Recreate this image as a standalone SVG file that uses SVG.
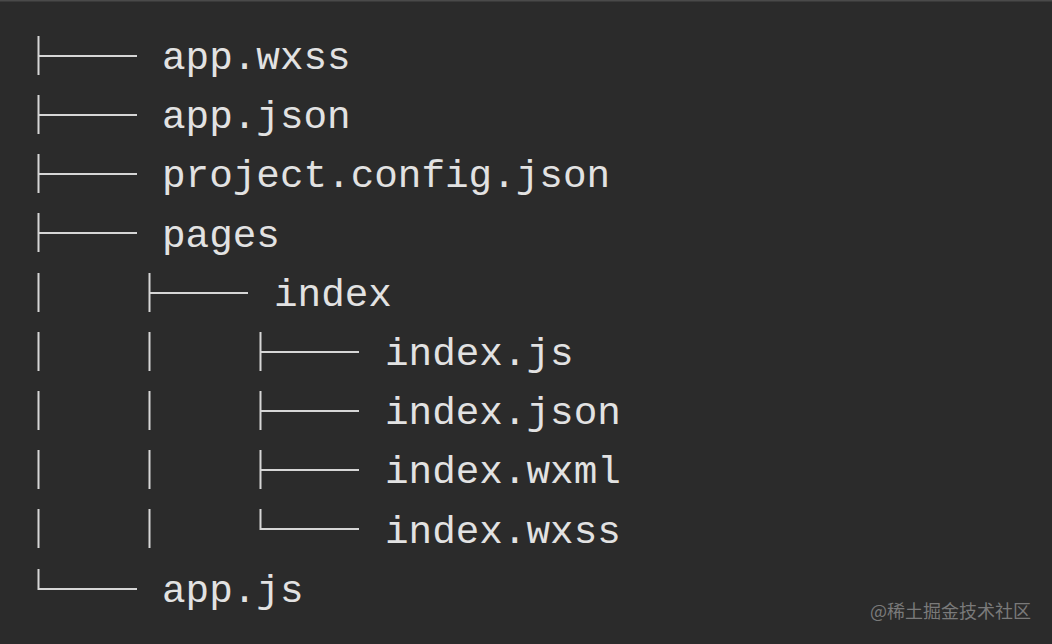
<svg xmlns="http://www.w3.org/2000/svg" width="1052" height="644" viewBox="0 0 1052 644">
<style>
.t{font-family:"Liberation Mono","DejaVu Sans Mono",monospace;font-size:39.3px;fill:#e2e2e2}
.l{stroke:#d6d6d6;stroke-width:2;fill:none}
.wm{font-family:"Noto Sans CJK SC","Noto Sans",sans-serif;font-size:18px;fill:#7a7a7a}
</style>
<rect width="1052" height="644" fill="#2b2b2b"/>
<rect width="1052" height="1.5" fill="#4a4a4a"/>
<g id="connectors">
<path class="l" d="M38.5 36V75M38.5 56H137"/>
<path class="l" d="M38.5 95V134M38.5 115H137"/>
<path class="l" d="M38.5 154V193M38.5 174H137"/>
<path class="l" d="M38.5 213V252M38.5 233H137"/>
<path class="l" d="M38.5 273V312M149.5 273V312M149.5 293H248"/>
<path class="l" d="M38.5 332V371M149.5 332V371M260.5 332V371M260.5 352H359"/>
<path class="l" d="M38.5 391V430M149.5 391V430M260.5 391V430M260.5 411H359"/>
<path class="l" d="M38.5 450V489M149.5 450V489M260.5 450V489M260.5 470H359"/>
<path class="l" d="M38.5 509V548M149.5 509V548M260.5 509V529H359"/>
<path class="l" d="M38.5 569V589H137"/>
</g>
<g id="n-app-wxss"><text class="t" x="162" y="69">app.wxss</text></g>
<g id="n-app-json"><text class="t" x="162" y="128">app.json</text></g>
<g id="n-project-config"><text class="t" x="162" y="187">project.config.json</text></g>
<g id="n-pages"><text class="t" x="162" y="247">pages</text></g>
<g id="n-index"><text class="t" x="274" y="306">index</text></g>
<g id="n-index-js"><text class="t" x="385" y="365">index.js</text></g>
<g id="n-index-json"><text class="t" x="385" y="424">index.json</text></g>
<g id="n-index-wxml"><text class="t" x="385" y="483">index.wxml</text></g>
<g id="n-index-wxss"><text class="t" x="385" y="543">index.wxss</text></g>
<g id="n-app-js"><text class="t" x="162" y="602">app.js</text></g>
<g id="watermark"><text class="wm" x="870" y="618">@稀土掘金技术社区</text></g>
</svg>
